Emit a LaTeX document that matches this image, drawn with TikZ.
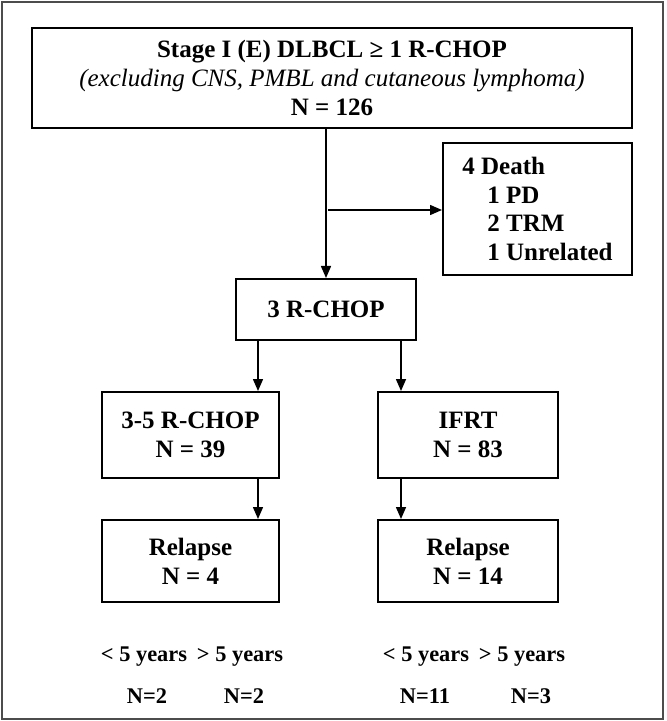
\documentclass[tikz,border=0pt]{standalone}
\usepackage{fontspec}
\setmainfont{Liberation Serif}
\usetikzlibrary{arrows.meta,positioning}

\begin{document}
\begin{tikzpicture}[x=0.5pt, y=-0.5pt, thick, >={Triangle[length=6pt,width=5pt]},
    box/.style = {draw, line width=1pt, inner sep=0pt, align=center,
                  font=\fontsize{12.5}{14.5}\selectfont\bfseries},
    txt/.style = {font=\fontsize{11.2}{13}\selectfont\bfseries},
    link/.style = {->, line width=0.75pt}]
        \useasboundingbox (0,0) rectangle (666,721);
        \draw[line width=0.6pt, black!70] (2,2) rectangle (663,719);
        % boxes
        \node[box, minimum width=300pt, minimum height=50pt] (top) at (332,78)
            {Stage I (E) DLBCL ≥ 1 R-CHOP\\
             {\fontsize{12.5}{14.5}\selectfont\mdseries\itshape (excluding CNS, PMBL and cutaneous lymphoma)}\\
             N = 126};
        \node[box, minimum width=94.5pt, minimum height=66pt, align=left,
              font=\fontsize{12.5}{14.2}\selectfont\bfseries] (death) at (537.5,209)
            {4 Death\\ \hspace{1em}1 PD\\ \hspace{1em}2 TRM\\ \hspace{1em}1 Unrelated};
        \node[box, minimum width=90pt, minimum height=30.5pt] (rchop) at (326,309.5) {3 R-CHOP};
        \node[box, minimum width=88.5pt, minimum height=43pt] (more) at (190.5,435) {3-5 R-CHOP\\N = 39};
        \node[box, minimum width=90pt, minimum height=43pt] (ifrt) at (468,435) {IFRT\\N = 83};
        \node[box, minimum width=88.5pt, minimum height=41pt] (rel1) at (190.5,561) {Relapse\\N = 4};
        \node[box, minimum width=90pt, minimum height=41pt] (rel2) at (468,561) {Relapse\\N = 14};
        % years
        \node[txt] (l1) at (144,657) {< 5 years};
        \node[txt] (g1) at (240,657) {> 5 years};
        \node[txt] (n1) at (147,696) {N=2};
        \node[txt] (n2) at (244,696) {N=2};
        \node[txt] (l2) at (426,657) {< 5 years};
        \node[txt] (g2) at (522,657) {> 5 years};
        \node[txt] (n3) at (425,696) {N=11};
        \node[txt] (n4) at (531,696) {N=3};
        % arrows
        \coordinate (br) at (328,210);
        \coordinate (a1) at (258,0);
        \coordinate (a2) at (401,0);
        \draw[link] (top.south -| rchop) -- (rchop.north);
        \draw[link] (br) -- (death.west |- br);
        \draw[link] (rchop.south -| a1) -- (more.north -| a1);
        \draw[link] (rchop.south -| a2) -- (ifrt.north -| a2);
        \draw[link] (more.south -| a1) -- (rel1.north -| a1);
        \draw[link] (ifrt.south -| a2) -- (rel2.north -| a2);
    \end{tikzpicture}
\end{document}
